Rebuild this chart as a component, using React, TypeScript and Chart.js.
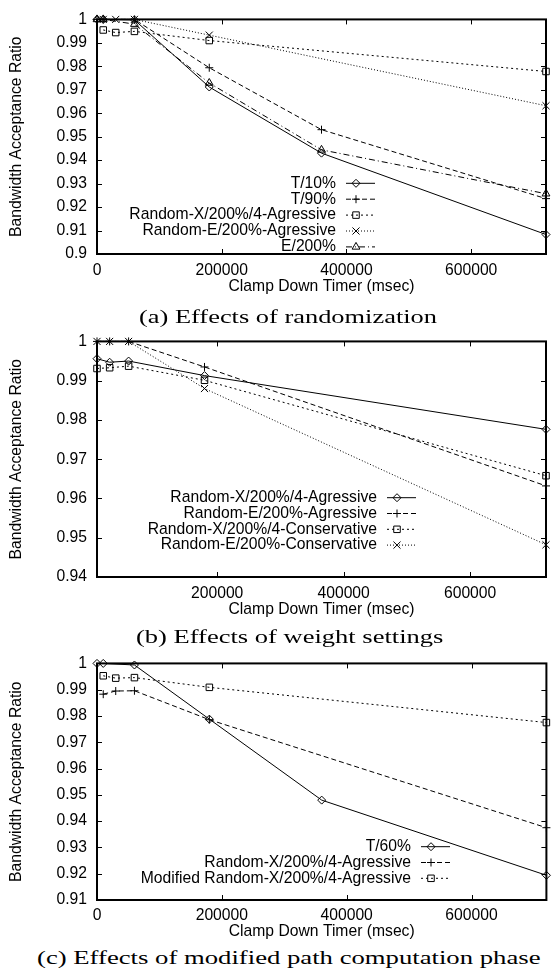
import React, { useEffect, useLayoutEffect, useRef } from 'react';
import { Chart, registerables } from 'chart.js';

Chart.register(...registerables);

// ---------- Panel (a): Effects of randomization ----------
const xA_T = [0, 10000, 60000, 180000, 360000, 720000];
const yA_T10 = [1, 1, 0.9998, 0.9712, 0.943, 0.9083];
const yA_T90 = [1, 1, 1, 0.9794, 0.953, 0.9236];
const yA_E200 = [1, 1, 0.998, 0.9729, 0.9444, 0.9257];
const xA_R = [10000, 30000, 60000, 180000, 720000];
const yA_RX = [0.9955, 0.9944, 0.9949, 0.991, 0.9778];
const yA_RE = [1, 1, 1, 0.9933, 0.9632];
const labelsA = ['T/10%', 'T/90%', 'Random-X/200%/4-Agressive', 'Random-E/200%-Agressive', 'E/200%'];
const yTicksA = [0.9, 0.91, 0.92, 0.93, 0.94, 0.95, 0.96, 0.97, 0.98, 0.99, 1];
const xTicksA = [0, 200000, 400000, 600000];

// ---------- Panel (b): Effects of weight settings ----------
const xB = [10000, 30000, 60000, 180000, 720000];
const yB_RXA = [0.9956, 0.9947, 0.995, 0.9913, 0.9776];
const yB_REA = [1, 1, 1, 0.9935, 0.9632];
const yB_RXC = [0.9931, 0.9933, 0.9937, 0.9901, 0.9658];
const yB_REC = [1, 1, 1, 0.988, 0.9482];
const labelsB = ['Random-X/200%/4-Agressive', 'Random-E/200%-Agressive', 'Random-X/200%/4-Conservative', 'Random-E/200%-Conservative'];
const yTicksB = [0.94, 0.95, 0.96, 0.97, 0.98, 0.99, 1];
const xTicksB = [200000, 400000, 600000];

// ---------- Panel (c): Effects of modified path computation phase ----------
const xC_T = [0, 10000, 60000, 180000, 360000, 720000];
const yC_T60 = [1, 1, 0.9994, 0.9788, 0.948, 0.9194];
const xC_R = [10000, 30000, 60000, 180000, 720000];
const yC_RX = [0.9883, 0.9895, 0.9896, 0.9786, 0.9375];
const yC_MRX = [0.9953, 0.9944, 0.9946, 0.9909, 0.9775];
const labelsC = ['T/60%', 'Random-X/200%/4-Agressive', 'Modified Random-X/200%/4-Agressive'];
const yTicksC = [0.91, 0.92, 0.93, 0.94, 0.95, 0.96, 0.97, 0.98, 0.99, 1];
const xTicksC = [0, 200000, 400000, 600000];

const captions = [
  '(a) Effects of randomization',
  '(b) Effects of weight settings',
  '(c) Effects of modified path computation phase',
];

const Y_TITLE = 'Bandwidth Acceptance Ratio';
const X_TITLE = 'Clamp Down Timer (msec)';

// ---------- styles ----------
const SANS = '"Liberation Sans", Arial, sans-serif';
const FS = 15.7;

type StyleKey = 'solid' | 'dash' | 'short' | 'dot' | 'dashdot';
const STYLES: Record<StyleKey, { dash: number[]; point: string; r: number }> = {
  solid: { dash: [], point: 'rectRot', r: 4 },
  dash: { dash: [5, 3], point: 'cross', r: 4 },
  short: { dash: [2, 3], point: 'rect', r: 4.6 },
  dot: { dash: [1, 2], point: 'crossRot', r: 5 },
  dashdot: { dash: [6, 3, 1, 3], point: 'triangle', r: 4.5 },
};

function drawMarker(ctx: CanvasRenderingContext2D, style: string, x: number, y: number, r: number) {
  ctx.beginPath();
  if (style === 'rectRot') {
    ctx.moveTo(x - r, y); ctx.lineTo(x, y - r); ctx.lineTo(x + r, y); ctx.lineTo(x, y + r); ctx.closePath();
  } else if (style === 'cross') {
    ctx.moveTo(x - r, y); ctx.lineTo(x + r, y); ctx.moveTo(x, y - r); ctx.lineTo(x, y + r);
  } else if (style === 'rect') {
    const s = r * Math.SQRT1_2; ctx.rect(x - s, y - s, 2 * s, 2 * s);
  } else if (style === 'crossRot') {
    const c = r * Math.SQRT1_2;
    ctx.moveTo(x - c, y - c); ctx.lineTo(x + c, y + c); ctx.moveTo(x - c, y + c); ctx.lineTo(x + c, y - c);
  } else if (style === 'triangle') {
    let a = 0;
    ctx.moveTo(x + Math.sin(a) * r, y - Math.cos(a) * r);
    a += (2 * Math.PI) / 3; ctx.lineTo(x + Math.sin(a) * r, y - Math.cos(a) * r);
    a += (2 * Math.PI) / 3; ctx.lineTo(x + Math.sin(a) * r, y - Math.cos(a) * r);
    ctx.closePath();
  }
  ctx.stroke();
}

const framePlugin = {
  id: 'gFrame',
  beforeDatasetsDraw(chart: any) {
    const { ctx, chartArea: a, scales } = chart;
    const xs = scales.x, ys = scales.y;
    ctx.save();
    ctx.strokeStyle = '#000';
    ctx.setLineDash([]);
    ctx.lineWidth = 1;
    ctx.beginPath();
    ys.ticks.forEach((t: any) => {
      const p = Math.round(ys.getPixelForValue(t.value)) + 0.5;
      ctx.moveTo(a.left, p); ctx.lineTo(a.left + 5, p);
      ctx.moveTo(a.right, p); ctx.lineTo(a.right - 5, p);
    });
    xs.ticks.forEach((t: any) => {
      const p = Math.round(xs.getPixelForValue(t.value)) + 0.5;
      ctx.moveTo(p, a.bottom); ctx.lineTo(p, a.bottom - 5);
      ctx.moveTo(p, a.top); ctx.lineTo(p, a.top + 5);
    });
    ctx.stroke();
    ctx.lineWidth = 2;
    ctx.strokeRect(a.left, a.top, a.right - a.left, a.bottom - a.top);
    ctx.restore();
  },
};

const legendPlugin = {
  id: 'gLegend',
  afterDatasetsDraw(chart: any, _args: any, opts: any) {
    const { ctx } = chart;
    ctx.save();
    ctx.font = `${FS}px ${SANS}`;
    ctx.textAlign = 'right';
    ctx.textBaseline = 'middle';
    ctx.fillStyle = '#000';
    ctx.strokeStyle = '#000';
    ctx.lineWidth = 1;
    chart.data.datasets.forEach((ds: any, i: number) => {
      const y = opts.y0 + i * opts.gap - opts.top;
      ctx.fillText(ds.label, opts.right, y);
      ctx.setLineDash(ds.borderDash || []);
      ctx.beginPath();
      ctx.moveTo(opts.right + 10, y);
      ctx.lineTo(opts.right + 39, y);
      ctx.stroke();
      ctx.setLineDash([]);
      drawMarker(ctx, ds.pointStyle, opts.right + 20, y, ds.pointRadius);
    });
    ctx.restore();
  },
};

type SeriesSpec = { label: string; x: number[]; y: number[]; style: StyleKey };
type PanelSpec = {
  top: number; h: number; padTop: number; xAxisH: number; tickPad: number; titlePb: number;
  xMin: number; xMax: number; yMin: number; yMax: number;
  xTicks: number[]; yTicks: number[];
  series: SeriesSpec[];
  legend: { right: number; y0: number; gap: number };
};

const panels: PanelSpec[] = [
  {
    top: 0, h: 300, padTop: 15, xAxisH: 46, tickPad: 7.1, titlePb: 4.1,
    xMin: 0, xMax: 720000, yMin: 0.9, yMax: 1, xTicks: xTicksA, yTicks: yTicksA,
    series: [
      { label: labelsA[0], x: xA_T, y: yA_T10, style: 'solid' },
      { label: labelsA[1], x: xA_T, y: yA_T90, style: 'dash' },
      { label: labelsA[2], x: xA_R, y: yA_RX, style: 'short' },
      { label: labelsA[3], x: xA_R, y: yA_RE, style: 'dot' },
      { label: labelsA[4], x: xA_T, y: yA_E200, style: 'dashdot' },
    ],
    legend: { right: 336, y0: 183.3, gap: 15.9 },
  },
  {
    top: 322, h: 300, padTop: 16, xAxisH: 45, tickPad: 7.4, titlePb: 2.8,
    xMin: 10000, xMax: 720000, yMin: 0.94, yMax: 1, xTicks: xTicksB, yTicks: yTicksB,
    series: [
      { label: labelsB[0], x: xB, y: yB_RXA, style: 'solid' },
      { label: labelsB[1], x: xB, y: yB_REA, style: 'dash' },
      { label: labelsB[2], x: xB, y: yB_RXC, style: 'short' },
      { label: labelsB[3], x: xB, y: yB_REC, style: 'dot' },
    ],
    legend: { right: 377, y0: 497.7, gap: 15.8 },
  },
  {
    top: 644, h: 300, padTop: 16, xAxisH: 44, tickPad: 6.6, titlePb: 3.1,
    xMin: 0, xMax: 720000, yMin: 0.91, yMax: 1, xTicks: xTicksC, yTicks: yTicksC,
    series: [
      { label: labelsC[0], x: xC_T, y: yC_T60, style: 'solid' },
      { label: labelsC[1], x: xC_R, y: yC_RX, style: 'dash' },
      { label: labelsC[2], x: xC_R, y: yC_MRX, style: 'short' },
    ],
    legend: { right: 411, y0: 846.7, gap: 15.8 },
  },
];

function buildConfig(p: PanelSpec): any {
  const font = { family: SANS, size: FS };
  return {
    type: 'line',
    data: {
      datasets: p.series.map((s) => {
        const st = STYLES[s.style];
        return {
          label: s.label,
          data: s.x.map((xv, i) => ({ x: xv, y: s.y[i] })),
          borderColor: '#000',
          borderWidth: 1,
          borderDash: st.dash,
          pointStyle: st.point,
          pointRadius: st.r,
          pointHoverRadius: st.r,
          pointBorderColor: '#000',
          pointBackgroundColor: 'rgba(0,0,0,0)',
          pointBorderWidth: 1,
          fill: false,
          tension: 0,
          clip: false,
        };
      }),
    },
    options: {
      animation: false,
      responsive: false,
      devicePixelRatio: 1,
      events: [],
      layout: { padding: { top: p.padTop, right: 1, left: 0, bottom: 0 } },
      plugins: {
        legend: { display: false },
        tooltip: { enabled: false },
        gLegend: { ...p.legend, top: p.top },
      },
      scales: {
        x: {
          type: 'linear',
          min: p.xMin,
          max: p.xMax,
          afterBuildTicks: (s: any) => { s.ticks = p.xTicks.map((v) => ({ value: v })); },
          afterFit: (s: any) => { s.height = p.xAxisH; },
          grid: { display: false, drawTicks: false },
          border: { display: false },
          ticks: { padding: p.tickPad, font, color: '#000', maxRotation: 0, autoSkip: false, callback: (v: any) => String(v) },
          title: { display: true, text: X_TITLE, font, color: '#000', padding: { top: 0, bottom: p.titlePb } },
        },
        y: {
          type: 'linear',
          min: p.yMin,
          max: p.yMax,
          afterBuildTicks: (s: any) => { s.ticks = p.yTicks.map((v) => ({ value: v })); },
          afterFit: (s: any) => { s.width = 97; },
          grid: { display: false, drawTicks: false },
          border: { display: false },
          ticks: { padding: 10, font, color: '#000', autoSkip: false, callback: (v: any) => String(+Number(v).toFixed(2)) },
          title: { display: true, text: Y_TITLE, font, color: '#000', padding: { top: 7.6, bottom: 0 } },
        },
      },
    },
    plugins: [framePlugin, legendPlugin],
  };
}

function Panel({ spec }: { spec: PanelSpec }) {
  const ref = useRef<HTMLCanvasElement>(null);
  useEffect(() => {
    const chart = new Chart(ref.current as HTMLCanvasElement, buildConfig(spec));
    return () => chart.destroy();
  }, [spec]);
  return (
    <canvas
      ref={ref}
      width={552}
      height={spec.h}
      style={{ position: 'absolute', left: 0, top: spec.top, width: 552, height: spec.h, display: 'block' }}
    />
  );
}

function Caption({ text, left, width, cy }: { text: string; left: number; width: number; cy: number }) {
  const ref = useRef<HTMLSpanElement>(null);
  useLayoutEffect(() => {
    const el = ref.current;
    if (!el) return;
    const w = el.getBoundingClientRect().width;
    if (w > 0) el.style.transform = `scaleX(${width / w})`;
  }, [text, width]);
  return (
    <div style={{ position: 'absolute', left, top: cy - 12, height: 24, whiteSpace: 'nowrap' }}>
      <span
        ref={ref}
        style={{
          display: 'inline-block',
          transformOrigin: 'left center',
          fontFamily: '"Liberation Serif", "Times New Roman", serif',
          fontSize: 19,
          lineHeight: '24px',
          color: '#000',
        }}
      >
        {text}
      </span>
    </div>
  );
}

const captionPos = [
  { left: 139, width: 298, cy: 316.5 },
  { left: 135.6, width: 307.4, cy: 637 },
  { left: 37, width: 503.5, cy: 958 },
];

export default function App() {
  return (
    <div style={{ position: 'absolute', left: 0, top: 0, width: 552, height: 973, background: '#fff', overflow: 'hidden' }}>
      {panels.map((p, i) => (
        <Panel key={i} spec={p} />
      ))}
      {captions.map((c, i) => (
        <Caption key={i} text={c} {...captionPos[i]} />
      ))}
    </div>
  );
}
